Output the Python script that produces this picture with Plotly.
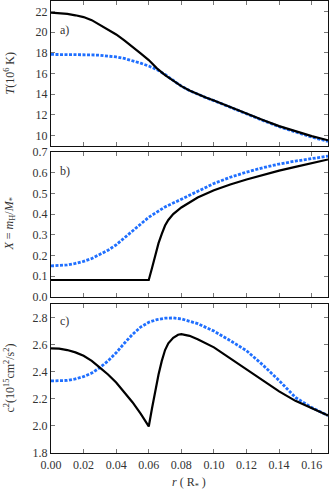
import plotly.graph_objects as go

# ---- data ----
r_T_black = [0.000, 0.005, 0.010, 0.015, 0.020, 0.025, 0.030, 0.035, 0.040, 0.045, 0.050, 0.055,
             0.060, 0.065, 0.070, 0.075, 0.080, 0.085, 0.090, 0.095, 0.100, 0.110, 0.120, 0.130,
             0.140, 0.150, 0.160, 0.170]
T_black = [21.87, 21.84, 21.75, 21.62, 21.45, 21.15, 20.70, 20.25, 19.77, 19.20, 18.60, 17.95,
           17.30, 16.50, 15.85, 15.30, 14.78, 14.35, 13.98, 13.68, 13.40, 12.75, 12.13, 11.52,
           10.92, 10.40, 9.95, 9.55]
r_T_blue = [0.000, 0.010, 0.020, 0.025, 0.030, 0.035, 0.040, 0.045, 0.050, 0.055, 0.060, 0.065,
            0.070, 0.075, 0.080, 0.085, 0.090, 0.095, 0.100, 0.110, 0.120, 0.130, 0.140, 0.150,
            0.160, 0.170]
T_blue = [17.84, 17.84, 17.82, 17.80, 17.76, 17.70, 17.60, 17.45, 17.25, 17.00, 16.72, 16.38,
          15.90, 15.33, 14.78, 14.35, 13.98, 13.67, 13.38, 12.72, 12.09, 11.47, 10.86, 10.33,
          9.86, 9.45]

r_X_black = [0.000, 0.060, 0.062, 0.064, 0.066, 0.068, 0.070, 0.072, 0.075, 0.080, 0.085, 0.090,
             0.100, 0.110, 0.120, 0.130, 0.140, 0.150, 0.160, 0.170]
X_black = [0.082, 0.082, 0.140, 0.200, 0.260, 0.305, 0.345, 0.372, 0.400, 0.432, 0.458, 0.480,
           0.515, 0.543, 0.567, 0.590, 0.610, 0.628, 0.646, 0.664]
r_X_blue = [0.000, 0.005, 0.010, 0.015, 0.020, 0.025, 0.030, 0.035, 0.040, 0.045, 0.050, 0.055,
            0.060, 0.065, 0.070, 0.080, 0.090, 0.100, 0.110, 0.120, 0.130, 0.140, 0.150, 0.160,
            0.170]
X_blue = [0.150, 0.151, 0.155, 0.162, 0.172, 0.186, 0.205, 0.226, 0.252, 0.285, 0.320, 0.355,
          0.385, 0.410, 0.435, 0.472, 0.510, 0.548, 0.578, 0.603, 0.624, 0.642, 0.656, 0.668,
          0.680]

r_c_black = [0.000, 0.005, 0.010, 0.015, 0.020, 0.025, 0.030, 0.035, 0.040, 0.045, 0.050, 0.055,
             0.060, 0.062, 0.064, 0.066, 0.068, 0.070, 0.072, 0.075, 0.078, 0.080, 0.085, 0.090,
             0.100, 0.110, 0.120, 0.130, 0.140, 0.150, 0.160, 0.170]
c_black = [2.572, 2.570, 2.560, 2.543, 2.518, 2.480, 2.430, 2.380, 2.320, 2.250, 2.175, 2.090,
           1.996, 2.130, 2.260, 2.380, 2.480, 2.560, 2.610, 2.650, 2.673, 2.678, 2.665, 2.640,
           2.580, 2.500, 2.420, 2.335, 2.255, 2.185, 2.130, 2.077]
r_c_blue = [0.000, 0.005, 0.010, 0.015, 0.020, 0.025, 0.030, 0.035, 0.040, 0.045, 0.050, 0.055,
            0.060, 0.065, 0.070, 0.075, 0.080, 0.090, 0.100, 0.110, 0.120, 0.130, 0.140, 0.150,
            0.160, 0.170]
c_blue = [2.332, 2.333, 2.336, 2.347, 2.364, 2.390, 2.430, 2.480, 2.540, 2.610, 2.675, 2.730,
          2.765, 2.785, 2.795, 2.797, 2.790, 2.755, 2.700, 2.630, 2.555, 2.450, 2.335, 2.210,
          2.135, 2.077]

x_ticks = [0.00, 0.02, 0.04, 0.06, 0.08, 0.10, 0.12, 0.14, 0.16]
T_ticks = [10, 12, 14, 16, 18, 20, 22]
X_ticks = [0.0, 0.1, 0.2, 0.3, 0.4, 0.5, 0.6, 0.7]
c_ticks = [1.8, 2.0, 2.2, 2.4, 2.6, 2.8]

y_titles = ["<i>T</i>(10<sup>6</sup> K)",
            "<i>X</i> = <i>m</i><sub>H</sub>/<i>M</i><sub>*</sub>",
            "c<sup>2</sup>(10<sup>15</sup>cm<sup>2</sup>/s<sup>2</sup>)"]
x_title = "<i>r</i> ( R<sub>*</sub> )"
panel_labels = ["a)", "b)", "c)"]

BLUE = "#1f6fff"
BLACK = "#000000"
FONT = "Liberation Serif, DejaVu Serif, serif"
TXT = "#333333"

fig = go.Figure()

def add_pair(rb, yb, rbl, ybl, xa, ya):
    fig.add_trace(go.Scatter(x=rbl, y=ybl, mode="lines", xaxis=xa, yaxis=ya,
                             line=dict(color=BLUE, width=2.8, dash="3px,1.5px"), showlegend=False))
    fig.add_trace(go.Scatter(x=rb, y=yb, mode="lines", xaxis=xa, yaxis=ya,
                             line=dict(color=BLACK, width=2.2), showlegend=False))

add_pair(r_T_black, T_black, r_T_blue, T_blue, "x", "y")
add_pair(r_X_black, X_black, r_X_blue, X_blue, "x2", "y2")
add_pair(r_c_black, c_black, r_c_blue, c_blue, "x3", "y3")

H = 452.0
def dom(top, bot):
    return [(453 - bot) / H, (453 - top) / H]

axis_common = dict(showline=True, linecolor="#111", linewidth=1.3, mirror="ticks",
                   ticks="inside", ticklen=4, tickwidth=1, tickcolor="#777",
                   showgrid=False, zeroline=False, automargin=False,
                   tickfont=dict(family=FONT, size=12, color=TXT))

xax = dict(range=[0, 0.17], tickvals=x_ticks, **axis_common)
tfont = dict(family=FONT, size=12, color=TXT)
fig.update_layout(
    width=329, height=490,
    margin=dict(l=51, r=1, t=1, b=37, autoexpand=False),
    paper_bgcolor="white", plot_bgcolor="white",
    font=dict(family=FONT, size=12, color=TXT),
    xaxis=dict(domain=[0, 1], anchor="y", showticklabels=False, **xax),
    xaxis2=dict(domain=[0, 1], anchor="y2", showticklabels=False, matches="x", **xax),
    xaxis3=dict(domain=[0, 1], anchor="y3", matches="x", tickformat=".2f", **xax),
    yaxis=dict(domain=dom(1, 146), anchor="x", range=[9, 23], tickvals=T_ticks, **axis_common),
    yaxis2=dict(domain=dom(152, 297), anchor="x2", range=[0, 0.7], tickvals=X_ticks, tickformat=".1f",
                **axis_common),
    yaxis3=dict(domain=dom(304, 453), anchor="x3", range=[1.8, 2.9], tickvals=c_ticks, tickformat=".1f",
                **axis_common),
)

# y-axis titles as rotated annotations at a common x position
PW = 277.0
for i, (yd, txt) in enumerate(zip(["y domain", "y2 domain", "y3 domain"], y_titles)):
    fig.add_annotation(text=txt, xref="paper", yref=yd, x=(9 - 51) / PW, y=0.5,
                       xanchor="center", yanchor="middle", textangle=-90, showarrow=False, font=tfont)

# x-axis title
fig.add_annotation(text=x_title, xref="paper", yref="paper", x=(189 - 51) / PW, y=(453 - 483) / H,
                   xanchor="center", yanchor="middle", showarrow=False, font=tfont)

# panel labels
for lab, xr, yr, yy in zip(panel_labels, ["x domain", "x2 domain", "x3 domain"],
                           ["y domain", "y2 domain", "y3 domain"], [0.86, 0.93, 0.945]):
    fig.add_annotation(text=lab, xref=xr, yref=yr, x=0.025, y=yy, xanchor="left", yanchor="top",
                       showarrow=False, font=tfont)

fig.write_html("out.html", post_script="document.body.style.margin='0';",
               config={"displayModeBar": False})
